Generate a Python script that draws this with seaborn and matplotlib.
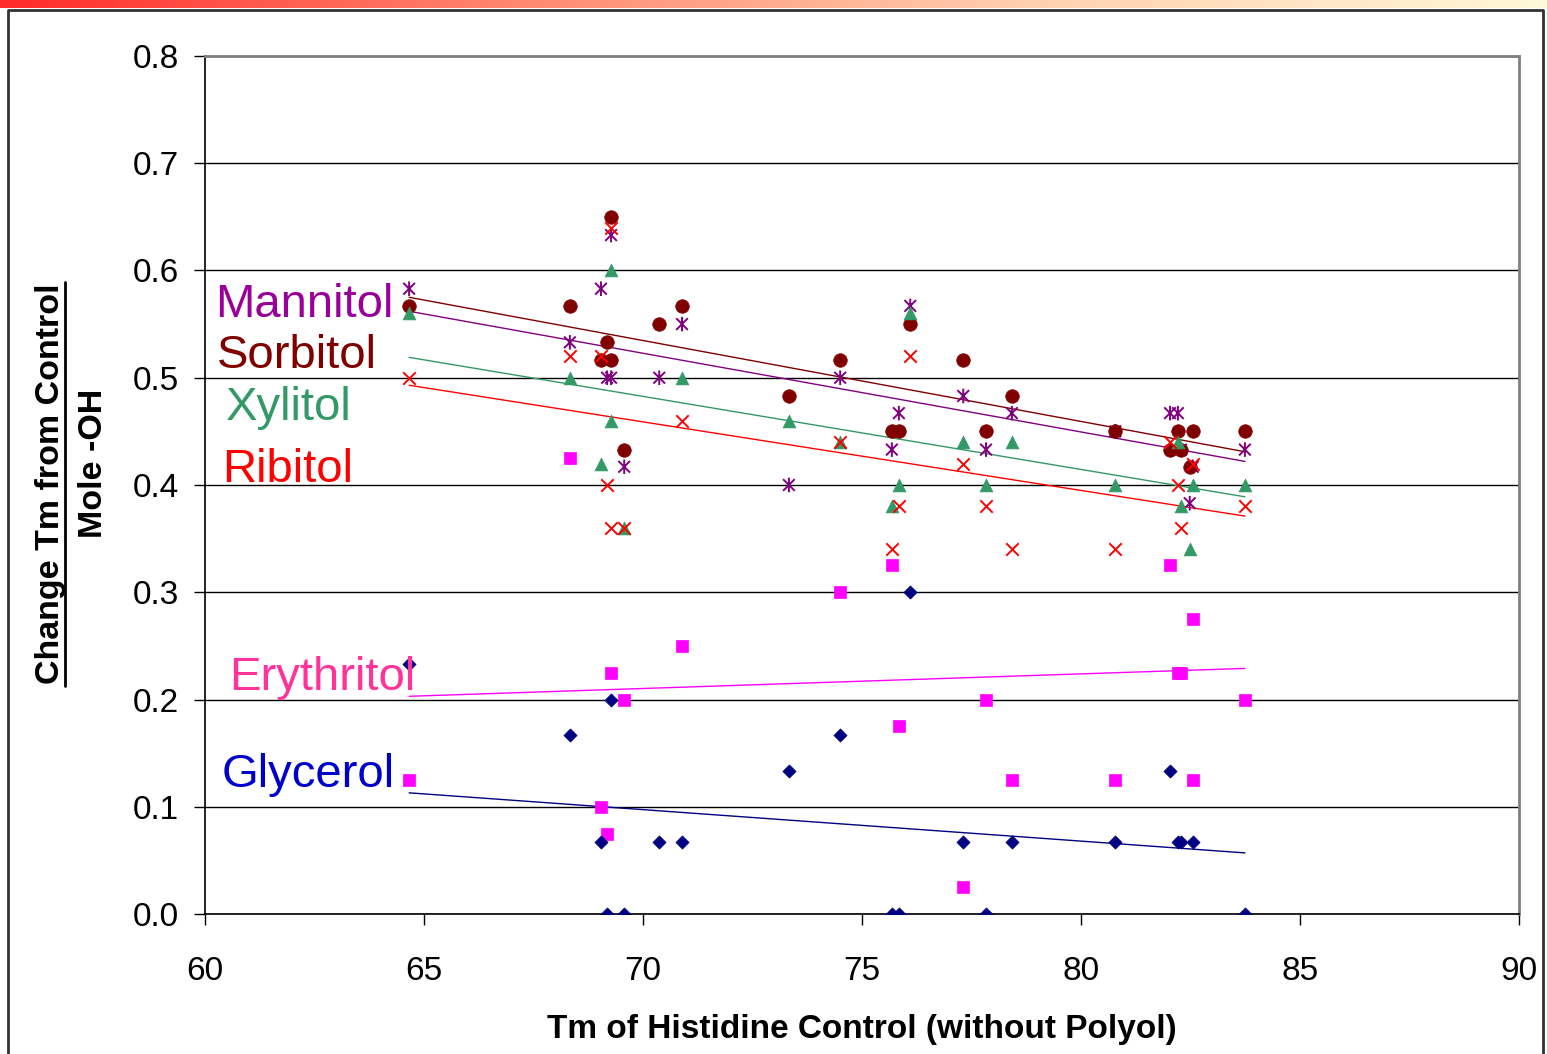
import numpy as np
import pandas as pd
import seaborn as sns
import matplotlib.pyplot as plt
from matplotlib.colors import LinearSegmentedColormap
from matplotlib.lines import Line2D
from matplotlib.path import Path

# data
gly_x = [64.66, 68.33, 69.04, 69.18, 69.27, 69.57, 70.37, 70.89, 73.33, 74.50, 75.68,
         75.84, 76.10, 77.31, 77.83, 78.42, 80.78, 82.03, 82.21, 82.28, 82.55, 83.74]
gly_y = [0.233, 0.167, 0.067, 0.0, 0.2, 0.0, 0.067, 0.067, 0.133, 0.167, 0.0,
         0.0, 0.3, 0.067, 0.0, 0.067, 0.067, 0.133, 0.067, 0.067, 0.067, 0.0]

ery_x = [64.66, 68.33, 69.04, 69.18, 69.27, 69.57, 70.89, 74.50, 75.68, 75.84,
         77.31, 77.83, 78.42, 80.78, 82.03, 82.21, 82.28, 82.55, 82.55, 83.74]
ery_y = [0.125, 0.425, 0.1, 0.075, 0.225, 0.2, 0.25, 0.3, 0.325, 0.175,
         0.025, 0.2, 0.125, 0.125, 0.325, 0.225, 0.225, 0.275, 0.125, 0.2]

rib_x = [64.66, 68.33, 69.04, 69.27, 69.18, 69.27, 69.57, 70.89, 74.50, 75.84, 75.68,
         76.10, 77.31, 77.83, 78.42, 80.78, 82.03, 82.21, 82.28, 82.55, 83.74]
rib_y = [0.50, 0.52, 0.52, 0.64, 0.40, 0.36, 0.36, 0.46, 0.44, 0.38, 0.34,
         0.52, 0.42, 0.38, 0.34, 0.34, 0.44, 0.40, 0.36, 0.42, 0.38]

xyl_x = [64.66, 68.33, 69.04, 69.27, 69.27, 69.57, 70.89, 73.33, 74.50, 75.68, 75.84,
         76.10, 77.31, 77.83, 78.42, 80.78, 82.21, 82.28, 82.55, 82.48, 83.74]
xyl_y = [0.56, 0.50, 0.42, 0.60, 0.46, 0.36, 0.50, 0.46, 0.44, 0.38, 0.40,
         0.56, 0.44, 0.40, 0.44, 0.40, 0.44, 0.38, 0.40, 0.34, 0.40]

sor_x = [64.66, 68.33, 69.04, 69.18, 69.27, 69.27, 69.57, 70.37, 70.89, 73.33, 74.50, 75.68,
         75.84, 76.10, 77.31, 77.83, 78.42, 80.78, 82.03, 82.21, 82.28, 82.48, 82.55, 83.74]
sor_y = [0.567, 0.567, 0.517, 0.533, 0.517, 0.65, 0.433, 0.55, 0.567, 0.483, 0.517, 0.45,
         0.45, 0.55, 0.517, 0.45, 0.483, 0.45, 0.433, 0.45, 0.433, 0.417, 0.45, 0.45]

man_x = [64.66, 68.33, 69.04, 69.27, 69.18, 69.27, 69.57, 70.37, 70.89, 73.33, 74.50, 75.68,
         75.84, 76.10, 77.31, 77.83, 78.42, 80.78, 82.03, 82.21, 82.28, 82.55, 82.48, 83.74]
man_y = [0.583, 0.533, 0.583, 0.633, 0.5, 0.5, 0.417, 0.5, 0.55, 0.40, 0.5, 0.433,
         0.467, 0.567, 0.483, 0.433, 0.467, 0.45, 0.467, 0.467, 0.433, 0.417, 0.383, 0.433]

# trendline ends as drawn in the chart (at Tm 64.66 and 83.74)
trend_x = [64.66, 83.74]
trend_start = [0.562, 0.575, 0.519, 0.493, 0.203, 0.113]
trend_end = [0.422, 0.431, 0.389, 0.371, 0.229, 0.057]

names = ["Mannitol", "Sorbitol", "Xylitol", "Ribitol", "Erythritol", "Glycerol"]
label_colors = ["#990099", "#800000", "#339966", "#FF0000", "#FF3399", "#0000CC"]
label_x = [60.23, 60.27, 60.48, 60.39, 60.55, 60.39]
label_y = [0.557, 0.509, 0.461, 0.403, 0.209, 0.118]

sns.set_theme(style="white")
plt.rcParams['font.family'] = ['Liberation Sans', 'DejaVu Sans']
plt.rcParams['text.color'] = 'black'
plt.rcParams['axes.labelcolor'] = 'black'
plt.rcParams['xtick.color'] = 'black'
plt.rcParams['ytick.color'] = 'black'

# excel style star: an x with a vertical bar through it
star = Path([(0, -1), (0, 1), (-0.8, -0.8), (0.8, 0.8), (-0.8, 0.8), (0.8, -0.8)],
            [Path.MOVETO, Path.LINETO] * 3)

fig = plt.figure(figsize=(15.47, 10.54), dpi=100)
ax = fig.add_axes([0.1325, 0.1328, 0.982 - 0.1325, 0.9469 - 0.1328])

series = [
    (man_x, man_y, "#800080", star, 110),
    (sor_x, sor_y, "#800000", "o", 95),
    (xyl_x, xyl_y, "#339966", "^", 85),
    (rib_x, rib_y, "#FF0000", "x", 80),
    (ery_x, ery_y, "#FF00FF", "s", 70),
    (gly_x, gly_y, "#000080", "D", 45),
]

for i, (xs, ys, col, mk, sz) in enumerate(series):
    df = pd.DataFrame({"x": xs, "y": ys})
    if isinstance(mk, str) and mk != "x":
        sns.scatterplot(data=df, x="x", y="y", marker=mk, color=col, s=sz,
                        edgecolor=col, linewidth=0.5, ax=ax, zorder=3)
    elif mk == "x":
        sns.scatterplot(data=df, x="x", y="y", marker=mk, color=col, s=sz,
                        linewidth=1.4, ax=ax, zorder=3)
    else:
        sns.scatterplot(data=df, x="x", y="y", marker=mk, s=sz, facecolor="none",
                        edgecolor=col, linewidth=1.4, ax=ax, zorder=3)
    tr = pd.DataFrame({"x": trend_x, "y": [trend_start[i], trend_end[i]]})
    sns.lineplot(data=tr, x="x", y="y", color=col, lw=1.0, ax=ax, zorder=2)

for name, col, xx, yy in zip(names, label_colors, label_x, label_y):
    ax.text(xx, yy, name, color=col, fontsize=34, va="baseline", ha="left", zorder=4)

ax.set_xlim(60, 90)
ax.set_ylim(0, 0.8)
ax.set_xticks(np.arange(60, 91, 5))
ax.set_yticks(np.arange(0, 0.81, 0.1))
ax.set_yticklabels([f"{v:.1f}" for v in np.arange(0, 0.81, 0.1)])
ax.tick_params(axis="both", labelsize=24, length=8, width=1, color="black",
               direction="out", bottom=True, left=True)
ax.tick_params(axis="x", pad=22)
ax.tick_params(axis="y", pad=11)
ax.yaxis.grid(True, color="black", lw=1)
ax.xaxis.grid(False)
ax.set_axisbelow(True)
for s in ["left", "bottom"]:
    ax.spines[s].set_color("black")
    ax.spines[s].set_linewidth(1.2)
for s in ["top", "right"]:
    ax.spines[s].set_color("#808080")
    ax.spines[s].set_linewidth(2)

ax.set_xlabel("Tm of Histidine Control (without Polyol)", fontsize=24,
              fontweight="bold", labelpad=20)
ax.set_ylabel("")

# y label as a fraction
fig.text(50 / 1547, 1 - 484 / 1054, "Change Tm from Control", rotation=90, fontsize=24.5,
         fontweight="bold", ha="center", va="center")
fig.text(93 / 1547, 1 - 463 / 1054, "Mole -OH", rotation=90, fontsize=24.5,
         fontweight="bold", ha="center", va="center")
fig.add_artist(Line2D([65 / 1547, 65 / 1547], [1 - 282 / 1054, 1 - 686 / 1054],
                      transform=fig.transFigure, color="black", lw=2))

# outer frame and top colour strip
fig.add_artist(Line2D([8 / 1547, 8 / 1547, 1543 / 1547, 1543 / 1547],
                      [0, 1 - 10 / 1054, 1 - 10 / 1054, 0],
                      transform=fig.transFigure, color="#333333", lw=2))
strip = fig.add_axes([0, 1 - 8 / 1054, 1, 8 / 1054])
cmap = LinearSegmentedColormap.from_list("strip", ["#FF2A2A", "#FF8870", "#FFD0B0", "#FFF8D8"])
strip.imshow(np.linspace(0, 1, 256).reshape(1, -1), aspect="auto", cmap=cmap)
strip.axis("off")

fig.savefig("out.png", dpi=100)
